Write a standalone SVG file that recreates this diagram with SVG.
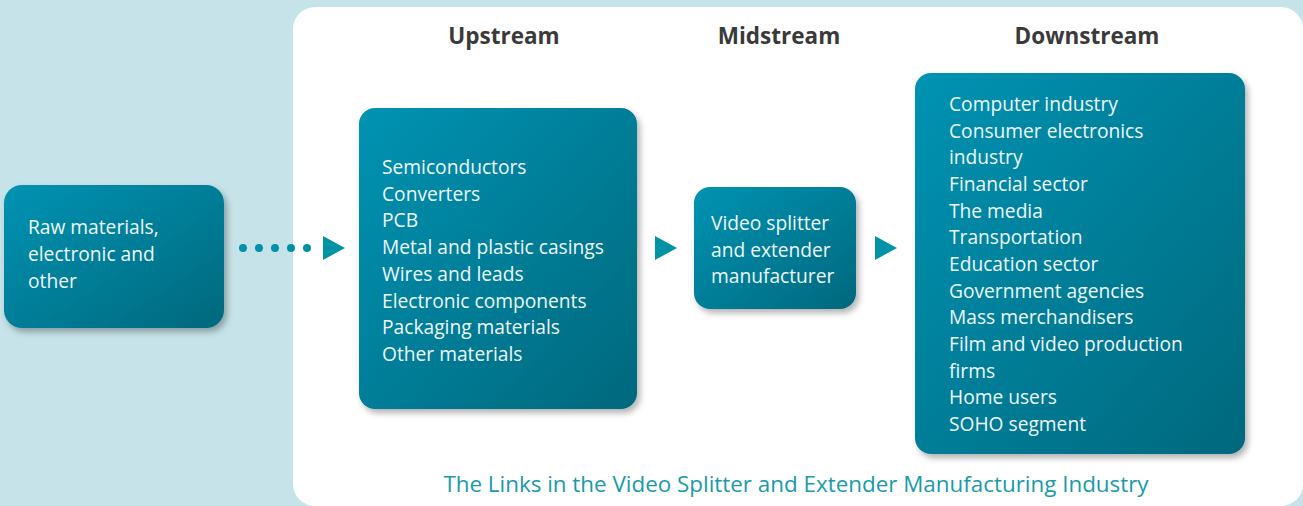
<svg xmlns="http://www.w3.org/2000/svg" width="1303" height="506" viewBox="0 0 1303 506">
<defs>
<linearGradient id="g" x1="0" y1="0" x2="1" y2="1">
<stop offset="0" stop-color="#0093b3"/>
<stop offset="1" stop-color="#00687d"/>
</linearGradient>
<filter id="sh" x="-10%" y="-10%" width="125%" height="125%">
<feDropShadow dx="3" dy="4" stdDeviation="3" flood-color="#000" flood-opacity="0.3"/>
</filter>
<style>
.box{fill:url(#g);filter:url(#sh)}
.t{font-family:"Open Sans","Liberation Sans",sans-serif;font-size:19.2px;fill:#eef6f8}
.h{font-family:"Open Sans","Liberation Sans",sans-serif;font-size:22.5px;font-weight:bold;fill:#3a3a3a;text-anchor:middle}
.cap{font-family:"Open Sans","Liberation Sans",sans-serif;font-size:22.4px;fill:#1a9aaa;text-anchor:middle}
.arr{fill:#0093a6}
</style>
</defs>
<rect width="1303" height="506" fill="#c5e3e8"/>
<rect x="293" y="7" width="1010" height="499" rx="22" fill="#ffffff"/>
<text class="h" x="504" y="44">Upstream</text>
<text class="h" x="779" y="44">Midstream</text>
<text class="h" x="1087" y="44">Downstream</text>
<g id="connectors">
<circle class="arr" cx="243" cy="248" r="4"/>
<circle class="arr" cx="259" cy="248" r="4"/>
<circle class="arr" cx="275" cy="248" r="4"/>
<circle class="arr" cx="291" cy="248" r="4"/>
<circle class="arr" cx="307" cy="248" r="4"/>
<polygon class="arr" points="323,236 345,248 323,260"/>
<polygon class="arr" points="655,236 677,248 655,260"/>
<polygon class="arr" points="875,236 897,248 875,260"/>
</g>
<g id="raw">
<rect class="box" x="4" y="185" width="220" height="143" rx="18"/>
<text class="t"><tspan x="28" y="234">Raw materials,</tspan><tspan x="28" y="261">electronic and</tspan><tspan x="28" y="288">other</tspan></text>
</g>
<g id="upstream">
<rect class="box" x="359" y="108" width="278" height="301" rx="16"/>
<text class="t"><tspan x="382" y="174">Semiconductors</tspan><tspan x="382" y="200.7">Converters</tspan><tspan x="382" y="227.4">PCB</tspan><tspan x="382" y="254.1">Metal and plastic casings</tspan><tspan x="382" y="280.8">Wires and leads</tspan><tspan x="382" y="307.5">Electronic components</tspan><tspan x="382" y="334.2">Packaging materials</tspan><tspan x="382" y="360.9">Other materials</tspan></text>
</g>
<g id="midstream">
<rect class="box" x="694" y="187" width="162" height="122" rx="16"/>
<text class="t"><tspan x="711" y="230">Video splitter</tspan><tspan x="711" y="257">and extender</tspan><tspan x="711" y="283">manufacturer</tspan></text>
</g>
<g id="downstream">
<rect class="box" x="915" y="73" width="330" height="381" rx="16"/>
<text class="t"><tspan x="949" y="111">Computer industry</tspan><tspan x="949" y="137.7">Consumer electronics</tspan><tspan x="949" y="164.3">industry</tspan><tspan x="949" y="191">Financial sector</tspan><tspan x="949" y="217.7">The media</tspan><tspan x="949" y="244.3">Transportation</tspan><tspan x="949" y="271">Education sector</tspan><tspan x="949" y="297.7">Government agencies</tspan><tspan x="949" y="324.3">Mass merchandisers</tspan><tspan x="949" y="351">Film and video production</tspan><tspan x="949" y="377.7">firms</tspan><tspan x="949" y="404.3">Home users</tspan><tspan x="949" y="431">SOHO segment</tspan></text>
</g>
<text class="cap" x="796" y="492">The Links in the Video Splitter and Extender Manufacturing Industry</text>
</svg>
